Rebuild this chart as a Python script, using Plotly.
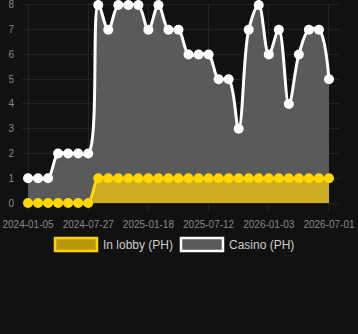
import plotly.graph_objects as go

dates = ["2024-01-05", "2024-02-08", "2024-03-13", "2024-04-16", "2024-05-20", "2024-06-23",
         "2024-07-27", "2024-08-25", "2024-09-23", "2024-10-22", "2024-11-20", "2024-12-19",
         "2025-01-18", "2025-02-16", "2025-03-17", "2025-04-15", "2025-05-14", "2025-06-12",
         "2025-07-12", "2025-08-10", "2025-09-08", "2025-10-07", "2025-11-05", "2025-12-04",
         "2026-01-03", "2026-02-01", "2026-03-02", "2026-03-31", "2026-04-30", "2026-05-31",
         "2026-07-01"]
casino = [1, 1, 1, 2, 2, 2, 2, 8, 7, 8, 8, 8, 7, 8, 7, 7, 6, 6, 6, 5, 5, 3, 7, 8, 6, 7, 4, 6, 7, 7, 5]
lobby = [0, 0, 0, 0, 0, 0, 0, 1, 1, 1, 1, 1, 1, 1, 1, 1, 1, 1, 1, 1, 1, 1, 1, 1, 1, 1, 1, 1, 1, 1, 1]
tick_labels = ["2024-01-05", "2024-07-27", "2025-01-18", "2025-07-12", "2026-01-03", "2026-07-01"]
series_names = ["In lobby (PH)", "Casino (PH)"]

fig = go.Figure()
fig.add_trace(go.Scatter(
    x=dates, y=casino, name=series_names[1], mode="lines+markers",
    line=dict(color="#ffffff", width=3, shape="spline"),
    marker=dict(color="#ffffff", size=10),
    fill="tozeroy", fillcolor="#5a5a5a", showlegend=False, cliponaxis=False,
))
fig.add_trace(go.Scatter(
    x=dates, y=lobby, name=series_names[0], mode="lines+markers",
    line=dict(color="#ffd700", width=3, shape="spline"),
    marker=dict(color="#ffd700", size=10),
    fill="tozeroy", fillcolor="#cfab22", showlegend=False, cliponaxis=False,
))

# manual legend (boxes + labels)
legend_items = [
    (series_names[0], "#ffd000", "#b8980a", 55, 97),
    (series_names[1], "#ffffff", "#5a5a5a", 181, 223),
]
shapes = []
annotations = []
for name, border, fillc, x0, x1 in legend_items:
    shapes.append(dict(type="rect", xref="paper", yref="paper",
                       x0=(x0 - 22) / 318, x1=(x1 - 22) / 318,
                       y0=(213 - 251) / 210, y1=(213 - 238) / 210,
                       line=dict(color=border, width=2.5), fillcolor=fillc))
    annotations.append(dict(text=name, xref="paper", yref="paper",
                            x=(x1 + 4 - 22) / 318, y=(213 - 245.5) / 210,
                            xanchor="left", yanchor="middle", showarrow=False,
                            font=dict(color="#cccccc", size=12)))

fig.update_layout(
    width=358, height=334,
    paper_bgcolor="#111111", plot_bgcolor="#111111",
    margin=dict(l=22, r=18, t=3, b=121),
    font=dict(family="Liberation Sans, Arial, sans-serif", color="#888888", size=10),
    showlegend=False,
    shapes=shapes, annotations=annotations,
    xaxis=dict(type="category", tickmode="array", tickvals=tick_labels, ticktext=tick_labels,
               range=[-0.6, 31.1], showgrid=True, gridcolor="#222222", zeroline=False,
               ticks="outside", ticklen=2, tickcolor="#111111",
               automargin=False, ticklabeloverflow="allow",
               tickfont=dict(size=10, color="#888888")),
    yaxis=dict(range=[-0.404, 8.08], dtick=1, showgrid=True, gridcolor="#222222", zeroline=False,
               ticks="outside", ticklen=5, tickcolor="#111111", ticklabeloverflow="allow",
               automargin=False,
               tickfont=dict(size=10, color="#888888")),
)

fig.write_html("out.html")
